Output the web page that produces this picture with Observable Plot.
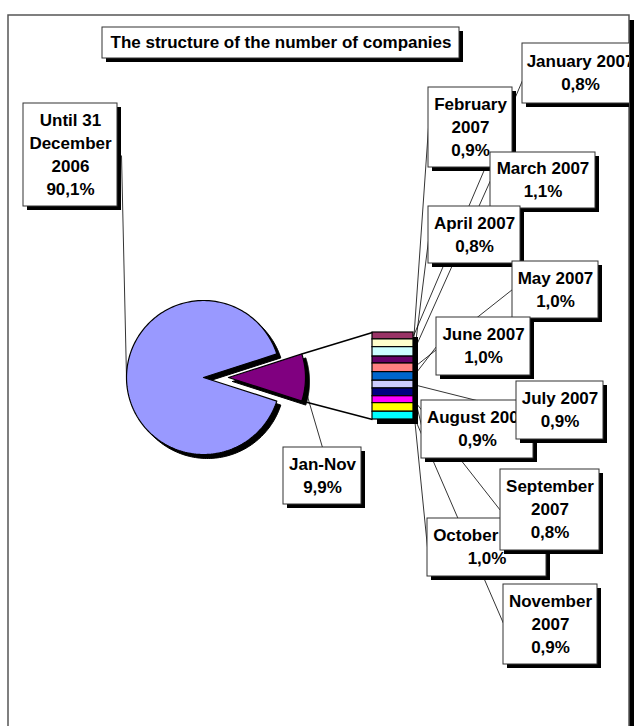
<!DOCTYPE html>
<html><head><meta charset="utf-8">
<script src="https://cdn.jsdelivr.net/npm/d3@7"></script>
<script src="https://cdn.jsdelivr.net/npm/@observablehq/plot@0.6"></script>
<style>body{margin:0;background:#fff;} #chart{position:absolute;left:0;top:0;}</style>
</head><body><div id="chart"></div>
<script>
// ---------------- data ----------------
const title = "The structure of the number of companies";
const mainNames = ["Until 31 December 2006", "Jan-Nov"];
const mainValues = [90.1, 9.9];
const mainColors = ["#9999FF", "#800080"];
const monthNames = ["January 2007", "February 2007", "March 2007", "April 2007", "May 2007", "June 2007",
  "July 2007", "August 2007", "September 2007", "October 2007", "November 2007"];
const monthValues = [0.8, 0.9, 1.1, 0.8, 1.0, 1.0, 0.9, 0.9, 0.8, 1.0, 0.9];
const monthColors = ["#993366", "#FFFFCC", "#CCFFFF", "#660066", "#FF8080", "#0066CC",
  "#CCCCFF", "#000080", "#FF00FF", "#FFFF00", "#00FFFF"];

// ---------------- layout ----------------
const FONT = 17, LINE = 23, SHADOW = 4;
const frameBox = {x1: 8, x2: 629, y1: 15, y2: 760};
const P = {cx: 203, cy: 377, r: 77, explode: 25, shadow: 4};
const B = {x1: 372, x2: 413, y1: 332, y2: 419, shadow: 5};
const layout = {
  "title": {box: [102, 459, 27, 58]},
  "Until 31 December 2006": {box: [23, 117, 103, 206], wrap: [2, 1, 1], anchor: [121, 155], slice: 0, angle: 3 * Math.PI / 2},
  "Jan-Nov": {box: [283, 361, 447, 504], wrap: [1], anchor: [322, 447], slice: 1, angleOffset: 0.13},
  "January 2007": {box: [522, 638, 43, 103], wrap: [2], anchor: [522, 80]},
  "February 2007": {box: [428, 512, 87, 167], wrap: [1, 1], anchor: [428, 127]},
  "March 2007": {box: [490, 595, 152, 208], wrap: [2], anchor: [490, 180]},
  "April 2007": {box: [428, 520, 206, 263], wrap: [2], anchor: [428, 240]},
  "May 2007": {box: [512, 598, 261, 318], wrap: [2], anchor: [512, 289]},
  "June 2007": {box: [436, 530, 317, 375], wrap: [2], anchor: [436, 346]},
  "July 2007": {box: [516, 603, 381, 439], wrap: [2], anchor: [516, 410]},
  "August 2007": {box: [421, 533, 400, 458], wrap: [2], anchor: [421, 425]},
  "September 2007": {box: [500, 599, 469, 550], wrap: [1, 1], anchor: [500, 510]},
  "October 2007": {box: [427, 546, 518, 576], wrap: [2], anchor: [427, 547]},
  "November 2007": {box: [503, 597, 584, 664], wrap: [1, 1], anchor: [503, 623]}
};
const drawOrder = ["title", "Until 31 December 2006", "Jan-Nov", "January 2007", "February 2007", "March 2007",
  "April 2007", "May 2007", "June 2007", "August 2007", "July 2007", "October 2007", "September 2007", "November 2007"];

// ---------------- geometry from data ----------------
const fmt = v => d3.format(".1f")(v).replace(".", ",") + "%";
const wrapText = (name, counts) => {
  const w = name.split(" "); const out = []; let i = 0;
  for (const c of counts) { out.push(w.slice(i, i + c).join(" ")); i += c; }
  return out;
};
const total = d3.sum(mainValues);
const theta = 2 * Math.PI * mainValues[1] / total;
const arcs = d3.pie().sort(null)
  .startAngle(Math.PI / 2 + theta / 2)
  .endAngle(Math.PI / 2 + theta / 2 + 2 * Math.PI)(mainValues);
const slices = arcs.map((a, i) => {
  const mid = (a.startAngle + a.endAngle) / 2;
  const off = i === 1 ? P.explode : 0;
  const cx = P.cx + off * Math.sin(mid), cy = P.cy - off * Math.cos(mid);
  const pts = [{x: cx, y: cy}];
  const n = 200;
  for (let k = 0; k <= n; k++) {
    const t = a.startAngle + (a.endAngle - a.startAngle) * k / n;
    pts.push({x: cx + P.r * Math.sin(t), y: cy - P.r * Math.cos(t)});
  }
  pts.push({x: cx, y: cy});
  return {name: mainNames[i], value: mainValues[i], color: mainColors[i], cx, cy, a0: a.startAngle, a1: a.endAngle, mid, pts};
});
const pt = (s, a) => [s.cx + P.r * Math.sin(a), s.cy - P.r * Math.cos(a)];

const monthTotal = d3.sum(monthValues);
const yBar = d3.scaleLinear([0, monthTotal], [B.y1, B.y2]);
const cum = d3.cumsum(monthValues);
const segs = monthValues.map((v, i) => ({
  name: monthNames[i], value: v, color: monthColors[i],
  y1: yBar(cum[i] - v), y2: yBar(cum[i])
}));

// connectors between exploded slice and bar
const ex = slices[1];
const cTop = pt(ex, ex.a0), cBot = pt(ex, ex.a1);
const connectors = [
  {x1: cTop[0], y1: cTop[1], x2: B.x1, y2: B.y1},
  {x1: cBot[0], y1: cBot[1], x2: B.x1, y2: B.y2}
];

// labels
const labels = {};
labels["title"] = {box: layout.title.box, lines: [title]};
slices.forEach(s => {
  const L = layout[s.name];
  const a = L.angle !== undefined ? L.angle : s.mid + L.angleOffset;
  const from = pt(s, a);
  labels[s.name] = {box: L.box, lines: [...wrapText(s.name, L.wrap), fmt(s.value)],
    leader: {x1: from[0], y1: from[1], x2: L.anchor[0], y2: L.anchor[1]}};
});
segs.forEach(s => {
  const L = layout[s.name];
  labels[s.name] = {box: L.box, lines: [...wrapText(s.name, L.wrap), fmt(s.value)],
    leader: {x1: B.x2, y1: (s.y1 + s.y2) / 2, x2: L.anchor[0], y2: L.anchor[1]}};
});
const leaders = Object.values(labels).filter(d => d.leader).map(d => d.leader);

// ---------------- marks ----------------
const marks = [];
// outer chart area frame with shadow
marks.push(Plot.rect([frameBox], {x1: d => d.x2, x2: d => d.x2 + 5, y1: d => d.y1 + 5, y2: d => d.y2, fill: "black"}));
marks.push(Plot.rect([frameBox], {x1: "x1", x2: "x2", y1: "y1", y2: "y2", fill: "white", stroke: "#555", strokeWidth: 1.5}));

// pie shadows then slices
slices.forEach(s => marks.push(Plot.line(s.pts, {x: d => d.x + P.shadow, y: d => d.y + P.shadow, fill: "black", stroke: "black", strokeWidth: 1})));
slices.forEach(s => marks.push(Plot.line(s.pts, {x: "x", y: "y", fill: s.color, stroke: "black", strokeWidth: 1.2, strokeLinejoin: "round"})));

// bar stack
marks.push(Plot.rect([B], {x1: d => d.x1 + d.shadow, x2: d => d.x2 + d.shadow, y1: d => d.y1 + d.shadow, y2: d => d.y2 + d.shadow, fill: "black"}));
marks.push(Plot.rect(segs, {x1: () => B.x1, x2: () => B.x2, y1: "y1", y2: "y2", fill: "color", stroke: "black", strokeWidth: 1.2}));

// connectors and leader lines
marks.push(Plot.link(connectors, {x1: "x1", y1: "y1", x2: "x2", y2: "y2", stroke: "black", strokeWidth: 1.6}));
marks.push(Plot.link(leaders, {x1: "x1", y1: "y1", x2: "x2", y2: "y2", stroke: "black", strokeWidth: 0.8}));

// label boxes
for (const key of drawOrder) {
  const L = labels[key];
  const [bx1, bx2, by1, by2] = L.box;
  const cx = (bx1 + bx2) / 2, cy = (by1 + by2) / 2, n = L.lines.length;
  const rows = L.lines.map((t, i) => ({t, x: cx, y: cy + (i - (n - 1) / 2) * LINE}));
  marks.push(Plot.rect([L], {x1: d => d.box[0] + SHADOW, x2: d => d.box[1] + SHADOW, y1: d => d.box[2] + SHADOW, y2: d => d.box[3] + SHADOW, fill: "black", clip: true}));
  marks.push(Plot.rect([L], {x1: d => d.box[0], x2: d => d.box[1], y1: d => d.box[2], y2: d => d.box[3], fill: "white", stroke: "#333", strokeWidth: 1, clip: true}));
  marks.push(Plot.text(rows, {x: "x", y: "y", text: "t", fontSize: FONT, fontWeight: "bold", fill: "black", clip: true}));
}

const chart = Plot.plot({
  width: 634, height: 726,
  marginTop: 0, marginLeft: 0, marginBottom: 0, marginRight: 5,
  x: {type: "identity", axis: null},
  y: {type: "identity", axis: null},
  color: {type: "identity"},
  style: {fontFamily: "'Liberation Sans', Arial, sans-serif", background: "white"},
  marks
});
document.getElementById("chart").appendChild(chart);
</script>
</body></html>
